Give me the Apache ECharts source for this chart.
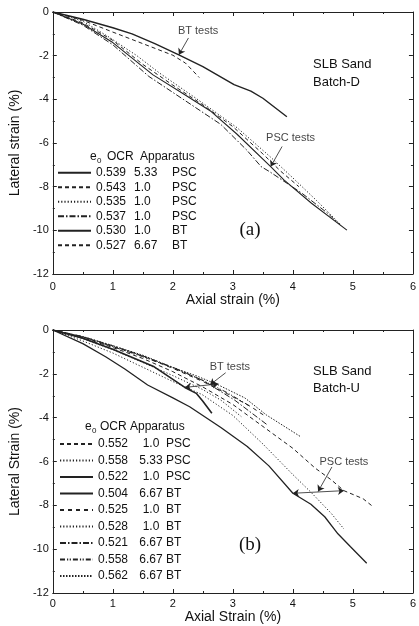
<!DOCTYPE html>
<html>
<head>
<meta charset="utf-8">
<script src="https://cdn.jsdelivr.net/npm/echarts@6/dist/echarts.min.js"></script>
<style>
  html, body { margin: 0; padding: 0; background: #fff; }
  #chart { width: 419px; height: 626px; }
</style>
</head>
<body>
<div id="chart"></div>
<script>
  // ---- panel (a) : Batch-D, [axial %, lateral %] ----
  const a_psc0539 = [[0,0],[0.5,-0.55],[1.0,-1.4],[1.67,-2.88],[2.16,-3.72],[2.64,-4.56],[3.07,-5.6],[3.63,-7.08],[3.85,-7.69],[4.31,-8.76],[4.9,-9.99]]
  const a_psc0543 = [[0,0],[0.5,-0.5],[1.0,-1.3],[1.5,-2.4],[2.0,-3.35],[2.5,-4.25],[3.0,-5.25],[3.5,-6.5],[3.8,-7.3],[4.1,-8.0]]
  const a_psc0535 = [[0,0],[0.5,-0.42],[0.92,-1.12],[1.4,-2.0],[1.78,-2.8],[2.42,-4.02],[3.07,-5.3],[3.61,-6.6],[4.0,-7.6],[4.4,-8.65],[4.8,-9.75]]
  const a_psc0537 = [[0,0],[0.5,-0.6],[1.0,-1.5],[1.6,-2.95],[2.2,-4.05],[2.8,-5.15],[3.23,-6.32],[3.47,-7.08],[3.61,-7.31],[4.15,-8.3],[4.58,-9.22],[4.79,-9.76]]
  const a_bt0530 = [[0,0],[0.5,-0.33],[1.0,-0.72],[1.32,-1.0],[1.7,-1.45],[2.1,-1.96],[2.5,-2.5],[3.02,-3.33],[3.3,-3.62],[3.5,-3.95],[3.9,-4.8]]
  const a_bt0527 = [[0,0],[0.5,-0.38],[1.0,-0.92],[1.5,-1.45],[2.0,-1.98],[2.21,-2.34],[2.44,-3.0]]

  // ---- panel (b) : Batch-U ----
  const b_psc0552 = [[0,0],[0.5,-0.35],[1.0,-0.8],[1.5,-1.3],[2.0,-1.9],[2.5,-2.6],[3.0,-3.4],[3.5,-4.4],[4.0,-5.4],[4.37,-6.3],[4.64,-6.84],[4.85,-7.33],[5.17,-7.7],[5.33,-8.05]]
  const b_psc0558 = [[0,0],[0.5,-0.5],[1.0,-1.05],[1.5,-1.7],[2.0,-2.35],[2.49,-2.95],[3.0,-3.9],[3.5,-5.2],[4.0,-6.6],[4.3,-7.4],[4.64,-8.37],[4.85,-9.08]]
  const b_psc0522 = [[0,0],[0.5,-0.62],[0.88,-1.22],[1.2,-1.78],[1.58,-2.51],[2.0,-3.1],[2.28,-3.5],[2.8,-4.45],[3.24,-5.32],[3.6,-6.2],[4.0,-7.45],[4.3,-7.95],[4.53,-8.52],[4.75,-9.3],[4.96,-9.89],[5.23,-10.64]]
  const b_bt0504 = [[0,0],[0.5,-0.38],[1.0,-0.88],[1.69,-1.68],[2.2,-2.62],[2.39,-2.89],[2.5,-3.25],[2.65,-3.8]]
  const b_bt0525 = [[0,0],[0.5,-0.32],[1.0,-0.75],[1.5,-1.2],[2.0,-1.75],[2.5,-2.35],[2.9,-2.9],[3.3,-3.5],[3.55,-3.95]]
  const b_bt0528 = [[0,0],[0.5,-0.4],[1.0,-0.9],[1.5,-1.48],[2.0,-2.08],[2.5,-2.72],[2.8,-3.2],[3.14,-3.95]]
  const b_bt0521 = [[0,0],[0.5,-0.3],[1.0,-0.72],[1.5,-1.18],[2.0,-1.7],[2.5,-2.3],[3.03,-3.2],[3.56,-4.3]]
  const b_bt0558 = [[0,0],[0.5,-0.32],[1.0,-0.76],[1.5,-1.22],[2.0,-1.72],[2.5,-2.3],[2.9,-2.85],[3.3,-3.5]]
  const b_bt0562 = [[0,0],[0.5,-0.3],[0.88,-0.61],[1.5,-1.15],[1.96,-1.67],[2.4,-2.1],[2.76,-2.51],[3.2,-3.1],[3.56,-3.88],[4.13,-4.87]]

  // annotations (data coords)
  const a_notes = [[2.42,-0.89,'BT tests'],[3.96,-5.78,'PSC tests']]
  const a_arrows = [[[2.26,-1.19],[2.10,-1.96]],[[3.82,-6.16],[3.63,-7.08]]]
  const b_notes = [[2.95,-1.67,'BT tests'],[4.85,-6.0,'PSC tests']]
  const b_arrows = [[[2.88,-1.95],[2.62,-2.5]],[[4.65,-6.25],[4.42,-7.37]]]
  const b_spans = [[[2.2,-2.62],[2.76,-2.46]],[[4.0,-7.45],[4.85,-7.33]]]

  const FONT = "'Liberation Sans', Arial, sans-serif"
  const INK = '#222'
  const SOLID = 'solid', DASH = [4, 3], DOT = [1.2, 2], DASHDOT = [6, 2, 1.5, 2], DASHDOTDOT = [5, 2, 1.2, 1.5, 1.2, 2]

  let chart = echarts.init(document.getElementById('chart'))

  function curve(name, data, gi, dash, w) {
    return {
      name: name, type: 'line', data: data,
      xAxisIndex: gi * 2, yAxisIndex: gi * 2,
      symbol: 'none', silent: true,
      itemStyle: { color: INK, opacity: 0 },
      lineStyle: { color: INK, width: w || 1, type: dash },
      z: 3
    }
  }

  function notes(gi, texts, arrows, spans) {
    const lines = arrows.map(a => [{ coord: a[0], symbol: 'none' }, { coord: a[1], symbol: 'arrow' }])
    ;(spans || []).forEach(s => lines.push([{ coord: s[0], symbol: 'arrow' }, { coord: s[1], symbol: 'arrow' }]))
    return {
      type: 'scatter', xAxisIndex: gi * 2, yAxisIndex: gi * 2, silent: true,
      data: texts, symbolSize: 1, itemStyle: { color: 'rgba(0,0,0,0)' },
      label: { show: true, position: 'inside', formatter: p => p.data[2], color: '#111', fontSize: 11, fontFamily: FONT },
      markLine: {
        silent: true, symbolSize: 6, label: { show: false },
        lineStyle: { color: INK, width: 0.8, type: 'solid' },
        data: lines
      }
    }
  }

  function axes(gi, xName, yName, xGap) {
    const tick = { inside: true, length: 4, lineStyle: { color: INK } }
    const minor = { show: true, splitNumber: 2, length: 2, lineStyle: { color: INK } }
    const line = { onZero: false, lineStyle: { color: INK, width: 1 } }
    const lbl = { fontSize: 11, color: '#111', fontFamily: FONT }
    const nameStyle = { fontSize: 14, color: '#111', fontFamily: FONT }
    return {
      x: [
        { gridIndex: gi, type: 'value', min: 0, max: 6, interval: 1, name: xName, nameLocation: 'middle', nameGap: xGap,
          nameTextStyle: nameStyle, axisLine: line, axisTick: tick, minorTick: minor,
          axisLabel: Object.assign({ margin: gi ? 5 : 7 }, lbl), splitLine: { show: false } },
        { gridIndex: gi, type: 'value', min: 0, max: 6, interval: 1, position: 'top',
          axisLine: line, axisTick: tick, minorTick: minor, axisLabel: { show: false }, splitLine: { show: false } }
      ],
      y: [
        { gridIndex: gi, type: 'value', min: -12, max: 0, interval: 2, name: yName, nameLocation: 'middle', nameGap: 22,
          nameTextStyle: nameStyle, axisLine: line, axisTick: tick, minorTick: minor,
          axisLabel: Object.assign({ margin: 4 }, lbl), splitLine: { show: false } },
        { gridIndex: gi, type: 'value', min: -12, max: 0, interval: 2, position: 'right',
          axisLine: line, axisTick: tick, minorTick: minor, axisLabel: { show: false }, splitLine: { show: false } }
      ]
    }
  }

  function legend(gi, names, top, rowH, aw, bw, balign) {
    return {
      orient: 'vertical', left: gi ? 54 : 52, top: top,
      itemWidth: 33, itemHeight: 8, itemGap: 0, selectedMode: false,
      itemStyle: { opacity: 0 },
      data: names,
      formatter: n => { const p = n.split('|'); return '{a|' + p[1] + '}{b|' + p[2] + '}{c|' + p[3] + '}' },
      textStyle: {
        color: '#111', fontSize: 12, fontFamily: FONT, lineHeight: rowH,
        rich: {
          a: { width: aw, fontSize: 12, fontFamily: FONT, color: '#111', lineHeight: rowH },
          b: { width: bw, align: balign, fontSize: 12, fontFamily: FONT, color: '#111', lineHeight: rowH },
          c: { fontSize: 12, fontFamily: FONT, color: '#111', lineHeight: rowH, padding: [0, 0, 0, gi ? 2 : 0] }
        }
      }
    }
  }

  function header(y, xs) {
    const st = { fill: '#111', fontFamily: FONT, fontSize: 12, verticalAlign: 'middle' }
    return [
      { type: 'text', x: xs[0], y: y, style: Object.assign({ text: 'e' }, st) },
      { type: 'text', x: xs[0] + 7, y: y + 4, style: Object.assign({}, st, { text: '0', fontSize: 8 }) },
      { type: 'text', x: xs[1], y: y, style: Object.assign({ text: 'OCR' }, st) },
      { type: 'text', x: xs[2], y: y, style: Object.assign({ text: 'Apparatus' }, st) }
    ]
  }

  const A = axes(0, 'Axial strain (%)', 'Lateral strain (%)', 19)
  const B = axes(1, 'Axial Strain (%)', 'Lateral Strain (%)', 15)

  const topSeries = [
    curve('a|0.539|5.33|PSC', a_psc0539, 0, SOLID, 1.1),
    curve('a|0.543|1.0|PSC', a_psc0543, 0, DASH, 1),
    curve('a|0.535|1.0|PSC', a_psc0535, 0, DOT, 1),
    curve('a|0.537|1.0|PSC', a_psc0537, 0, DASHDOT, 1),
    curve('a|0.530|1.0|BT', a_bt0530, 0, SOLID, 1.4),
    curve('a|0.527|6.67|BT', a_bt0527, 0, DASH, 1)
  ]
  const botSeries = [
    curve('b|0.552|1.0|PSC', b_psc0552, 1, DASH, 1),
    curve('b|0.558|5.33|PSC', b_psc0558, 1, DOT, 1),
    curve('b|0.522|1.0|PSC', b_psc0522, 1, SOLID, 1.3),
    curve('b|0.504|6.67|BT', b_bt0504, 1, SOLID, 1.6),
    curve('b|0.525|1.0|BT', b_bt0525, 1, [4, 4], 1),
    curve('b|0.528|1.0|BT', b_bt0528, 1, DOT, 1),
    curve('b|0.521|6.67|BT', b_bt0521, 1, DASHDOT, 1),
    curve('b|0.558|6.67|BT', b_bt0558, 1, DASHDOTDOT, 1),
    curve('b|0.562|6.67|BT', b_bt0562, 1, [1.5, 1.5], 1)
  ]

  chart.setOption({
    animation: false,
    textStyle: { fontFamily: FONT },
    grid: [
      { left: 43, top: 12, right: 4, height: 262 },
      { left: 45, top: 330, right: 1, height: 263 }
    ],
    xAxis: A.x.concat(B.x),
    yAxis: A.y.concat(B.y),
    legend: [
      legend(0, topSeries.map(s => s.name), 160.5, 14.5, 38, 38, 'left'),
      legend(1, botSeries.map(s => s.name), 430.75, 16.5, 40, 26, 'center')
    ],
    graphic: [].concat(
      header(157, [90, 107, 140]),
      header(427, [85, 100, 130]),
      [
        { type: 'text', x: 313, y: 55, style: { text: 'SLB Sand\nBatch-D', fill: '#111', fontFamily: FONT, fontSize: 13, lineHeight: 18 } },
        { type: 'text', x: 313, y: 363, style: { text: 'SLB Sand\nBatch-U', fill: '#111', fontFamily: FONT, fontSize: 13, lineHeight: 17 } },
        { type: 'text', x: 250, y: 230, style: { text: '(a)', fill: '#111', fontFamily: "'Liberation Serif', 'Times New Roman', serif", fontSize: 19, align: 'center', verticalAlign: 'middle' } },
        { type: 'text', x: 250, y: 545, style: { text: '(b)', fill: '#111', fontFamily: "'Liberation Serif', 'Times New Roman', serif", fontSize: 19, align: 'center', verticalAlign: 'middle' } }
      ]
    ),
    series: topSeries.concat(botSeries, [
      notes(0, a_notes, a_arrows),
      notes(1, b_notes, b_arrows, b_spans)
    ])
  })
</script>
</body>
</html>
